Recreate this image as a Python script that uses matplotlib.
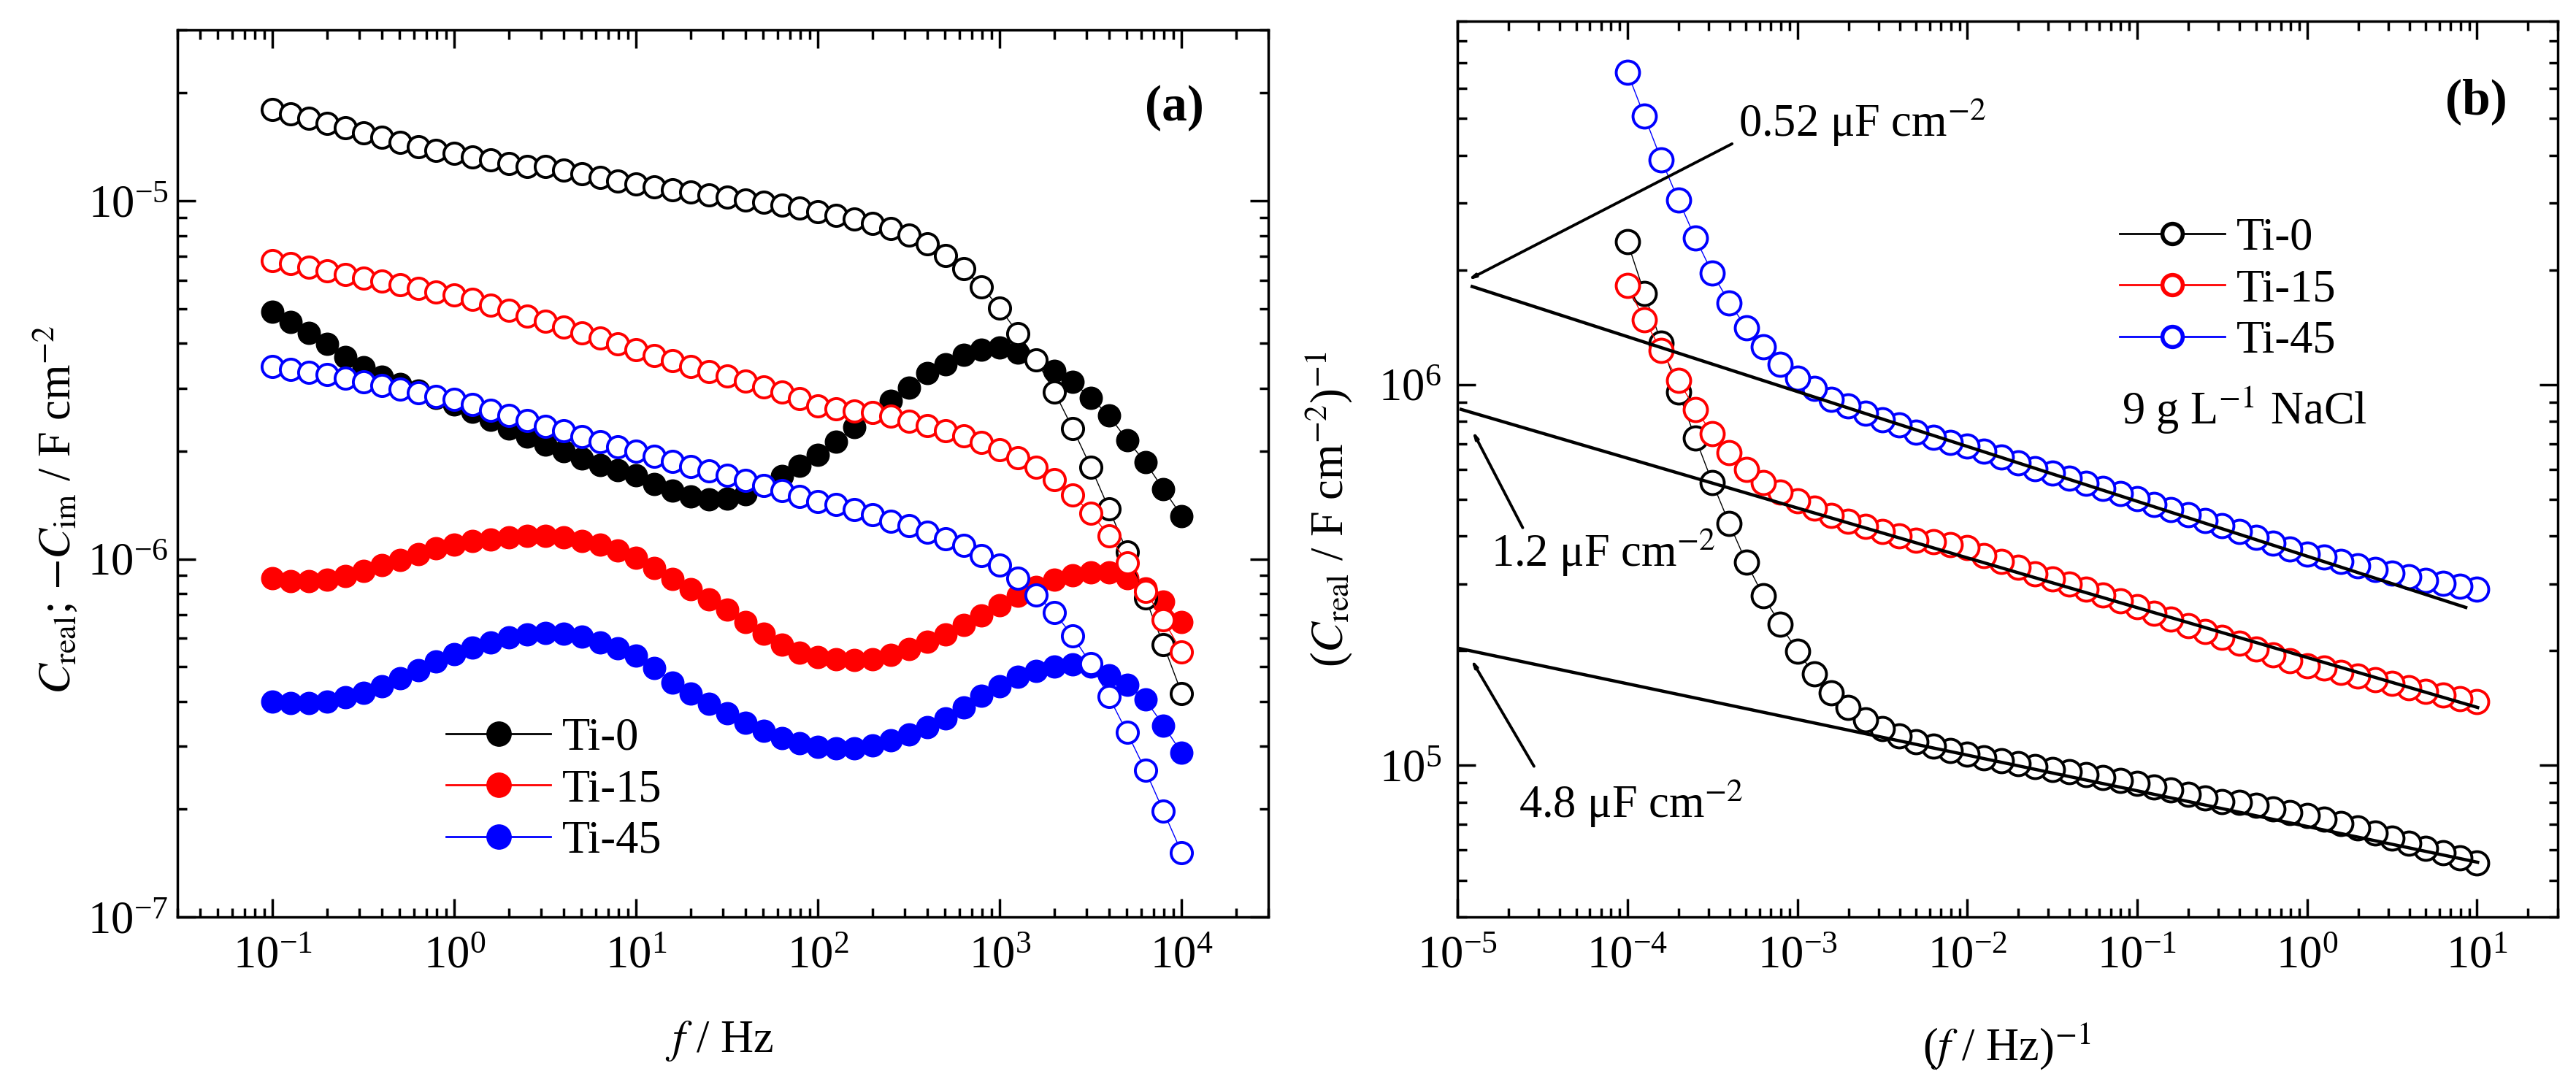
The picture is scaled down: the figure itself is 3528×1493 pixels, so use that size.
import numpy as np
import matplotlib
matplotlib.use("Agg")
import matplotlib.pyplot as plt
from matplotlib.ticker import LogLocator, NullFormatter
from matplotlib.lines import Line2D

plt.rcParams['font.family'] = ['Liberation Serif', 'DejaVu Serif']
plt.rcParams['mathtext.fontset'] = 'stix'

# measured frequencies, 10 points per decade
freq_hz = [0.1, 0.1259, 0.1585, 0.1995, 0.2512, 0.3162, 0.3981, 0.5012, 0.631, 0.7943,
           1, 1.259, 1.585, 1.995, 2.512, 3.162, 3.981, 5.012, 6.31, 7.943,
           10, 12.59, 15.85, 19.95, 25.12, 31.62, 39.81, 50.12, 63.1, 79.43,
           100, 125.9, 158.5, 199.5, 251.2, 316.2, 398.1, 501.2, 631, 794.3,
           1000, 1259, 1585, 1995, 2512, 3162, 3981, 5012, 6310, 7943, 10000]

labels = ["Ti-0", "Ti-15", "Ti-45"]
colors = ["black", "red", "blue"]

# log10 of C_real (open symbols), F cm^-2
log_creal_ti0 = [-4.745, -4.757, -4.770, -4.783, -4.796, -4.810, -4.823, -4.836, -4.848, -4.860,
                 -4.868, -4.877, -4.886, -4.895, -4.903, -4.905, -4.915, -4.925, -4.935, -4.944,
                 -4.953, -4.961, -4.969, -4.976, -4.983, -4.990, -4.997, -5.004, -5.012, -5.020,
                 -5.030, -5.040, -5.051, -5.063, -5.078, -5.096, -5.120, -5.153, -5.190, -5.240,
                 -5.300, -5.370, -5.445, -5.533, -5.635, -5.743, -5.860, -5.980, -6.109, -6.240, -6.375]
log_creal_ti15 = [-5.167, -5.176, -5.185, -5.195, -5.205, -5.215, -5.225, -5.235, -5.245, -5.255,
                  -5.262, -5.276, -5.291, -5.306, -5.321, -5.337, -5.352, -5.368, -5.384, -5.400,
                  -5.416, -5.432, -5.447, -5.462, -5.476, -5.490, -5.504, -5.520, -5.535, -5.552,
                  -5.572, -5.580, -5.588, -5.592, -5.602, -5.615, -5.628, -5.642, -5.656, -5.675,
                  -5.695, -5.717, -5.743, -5.778, -5.822, -5.872, -5.935, -6.011, -6.090, -6.170, -6.260]
log_creal_ti45 = [-5.463, -5.470, -5.478, -5.486, -5.495, -5.505, -5.515, -5.525, -5.536, -5.547,
                  -5.555, -5.569, -5.584, -5.599, -5.614, -5.629, -5.643, -5.658, -5.672, -5.686,
                  -5.700, -5.714, -5.728, -5.741, -5.754, -5.767, -5.780, -5.795, -5.810, -5.826,
                  -5.839, -5.848, -5.862, -5.876, -5.894, -5.908, -5.925, -5.944, -5.962, -5.990,
                  -6.017, -6.054, -6.100, -6.150, -6.215, -6.293, -6.385, -6.485, -6.590, -6.705, -6.820]

# log10 of -C_im (filled symbols), F cm^-2
log_cim_ti0 = [-5.310, -5.338, -5.368, -5.400, -5.436, -5.465, -5.492, -5.512, -5.530, -5.550,
               -5.568, -5.590, -5.612, -5.635, -5.658, -5.680, -5.700, -5.720, -5.737, -5.752,
               -5.766, -5.790, -5.810, -5.825, -5.833, -5.832, -5.820, -5.795, -5.768, -5.740,
               -5.710, -5.672, -5.632, -5.592, -5.558, -5.522, -5.480, -5.456, -5.430, -5.416,
               -5.410, -5.424, -5.445, -5.475, -5.505, -5.550, -5.600, -5.668, -5.730, -5.806, -5.880]
log_cim_ti15 = [-6.053, -6.063, -6.063, -6.058, -6.048, -6.033, -6.017, -6.002, -5.986, -5.971,
                -5.960, -5.950, -5.945, -5.940, -5.935, -5.935, -5.940, -5.950, -5.960, -5.976,
                -5.996, -6.025, -6.055, -6.085, -6.112, -6.142, -6.177, -6.208, -6.240, -6.262,
                -6.275, -6.280, -6.282, -6.280, -6.268, -6.252, -6.232, -6.210, -6.185, -6.157,
                -6.130, -6.102, -6.078, -6.058, -6.045, -6.038, -6.038, -6.053, -6.083, -6.120, -6.177]
log_cim_ti45 = [-6.398, -6.403, -6.403, -6.398, -6.387, -6.373, -6.356, -6.334, -6.310, -6.287,
                -6.265, -6.248, -6.233, -6.220, -6.210, -6.206, -6.208, -6.218, -6.233, -6.250,
                -6.269, -6.305, -6.345, -6.375, -6.405, -6.432, -6.458, -6.480, -6.500, -6.515,
                -6.524, -6.528, -6.528, -6.520, -6.507, -6.490, -6.470, -6.445, -6.415, -6.383,
                -6.355, -6.330, -6.312, -6.300, -6.295, -6.300, -6.326, -6.352, -6.393, -6.465, -6.542]

# power-law fit lines in panel (b): (x0, y0) -> (x1, y1)
fit_x0 = [1.22e-5, 1.05e-5, 1.02e-5]
fit_y0 = [1.81e6, 8.61e5, 2.03e5]
fit_x1 = [8.6, 10.1, 10.1]
fit_y1 = [2.60e5, 1.42e5, 5.57e4]

# capacitance annotations in panel (b)
ann_text = [r"0.52 μF cm$^{-2}$", r"1.2 μF cm$^{-2}$", r"4.8 μF cm$^{-2}$"]
ann_tip = [(1.14e-5, 1.88e6), (1.22e-5, 7.59e5), (1.20e-5, 1.905e5)]
ann_tail = [(4.13e-4, 4.29e6), (2.42e-5, 4.21e5), (2.82e-5, 9.95e4)]
ann_pos = [(4.5e-4, 4.88e6), (1.58e-5, 3.63e5), (2.29e-5, 7.94e4)]

creal = [10 ** np.array(v) for v in (log_creal_ti0, log_creal_ti15, log_creal_ti45)]
cim = [10 ** np.array(v) for v in (log_cim_ti0, log_cim_ti15, log_cim_ti45)]
f = np.array(freq_hz)

FS = 45
LW = 2.5

fig = plt.figure(figsize=(35.28, 14.93), dpi=100)
ax1 = fig.add_axes([0.0689, 0.1587, 0.4235, 0.8138])
ax2 = fig.add_axes([0.5658, 0.1587, 0.4272, 0.8218])


def style(ax, ypad):
    ax.set_xscale('log')
    ax.set_yscale('log')
    for s in ax.spines.values():
        s.set_linewidth(LW)
    ax.xaxis.set_major_locator(LogLocator(base=10, numticks=20))
    ax.xaxis.set_minor_locator(LogLocator(base=10, subs=np.arange(2, 10), numticks=20))
    ax.yaxis.set_major_locator(LogLocator(base=10, numticks=20))
    ax.yaxis.set_minor_locator(LogLocator(base=10, subs=np.arange(2, 10), numticks=20))
    ax.xaxis.set_minor_formatter(NullFormatter())
    ax.yaxis.set_minor_formatter(NullFormatter())
    ax.tick_params(which='both', direction='in', top=True, right=True, width=LW, labelsize=FS)
    ax.tick_params(which='major', length=18)
    ax.tick_params(which='minor', length=9)
    ax.tick_params(axis='x', pad=18)
    ax.tick_params(axis='y', pad=ypad)


# panel (a)
for i in range(3):
    ax1.plot(f, cim[i], '-o', color=colors[i], lw=1, ms=22, mfc=colors[i], mec=colors[i], mew=1, zorder=2)
for i in range(3):
    ax1.plot(f, creal[i], '-o', color=colors[i], lw=1, ms=21, mfc='white', mec=colors[i], mew=2.8, zorder=3)

style(ax1, 9)
ax1.set_xlim(0.03, 3e4)
ax1.set_ylim(1e-7, 3e-5)
ax1.text(0.914, 0.912, "(a)", transform=ax1.transAxes, ha='center', va='center',
         fontsize=50, fontweight='bold')

h1 = [Line2D([], [], color=c, lw=2, marker='o', ms=24, mfc=c, mec=c) for c in colors]
ax1.legend(h1, labels, loc='center left', bbox_to_anchor=(0.246, 0.143), frameon=False,
           fontsize=FS, handlelength=2.3, handletextpad=0.25, labelspacing=0.2,
           borderpad=0, borderaxespad=0)

# panel (b)
for i in range(3):
    ax2.plot(1 / f, 1 / creal[i], '-o', color=colors[i], lw=1, ms=23, mfc='white',
             mec=colors[i], mew=2.8, zorder=2)
for i in range(3):
    ax2.plot([fit_x0[i], fit_x1[i]], [fit_y0[i], fit_y1[i]], '-', color='black', lw=3.2, zorder=4)
for i in range(3):
    ax2.annotate('', xy=ann_tip[i], xytext=ann_tail[i],
                 arrowprops=dict(arrowstyle='-|>,head_length=0.5,head_width=0.12', color='black',
                                 lw=2.8, shrinkA=0, shrinkB=0), zorder=5)
    ax2.text(ann_pos[i][0], ann_pos[i][1], ann_text[i], fontsize=FS, ha='left', va='center')

style(ax2, 16)
ax2.set_xlim(1e-5, 30)
ax2.set_ylim(4e4, 9e6)
ax2.text(0.926, 0.910, "(b)", transform=ax2.transAxes, ha='center', va='center',
         fontsize=50, fontweight='bold')

h2 = [Line2D([], [], color=c, lw=2, marker='o', ms=20, mfc='white', mec=c, mew=4) for c in colors]
ax2.legend(h2, labels, loc='center left', bbox_to_anchor=(0.602, 0.700), frameon=False,
           fontsize=FS, handlelength=2.3, handletextpad=0.25, labelspacing=0.2,
           borderpad=0, borderaxespad=0)
ax2.text(0.604, 0.566, r"9 g L$^{-1}$ NaCl", transform=ax2.transAxes, fontsize=FS,
         ha='left', va='center')

# axis labels
fig.text(0.022, 0.5325, r"$C_{\mathrm{real}}$; $-C_{\mathrm{im}}$ / F cm$^{-2}$", rotation=90,
         ha='center', va='center', fontsize=FS)
fig.text(0.2792, 0.0455, r"$f$ / Hz", ha='center', va='center', fontsize=FS)
fig.text(0.5159, 0.533, r"($C_{\mathrm{real}}$ / F cm$^{-2}$)$^{-1}$", rotation=90,
         ha='center', va='center', fontsize=FS)
fig.text(0.779, 0.040, r"($f$ / Hz)$^{-1}$", ha='center', va='center', fontsize=FS)

fig.savefig('out.png', dpi=100, facecolor='white')
